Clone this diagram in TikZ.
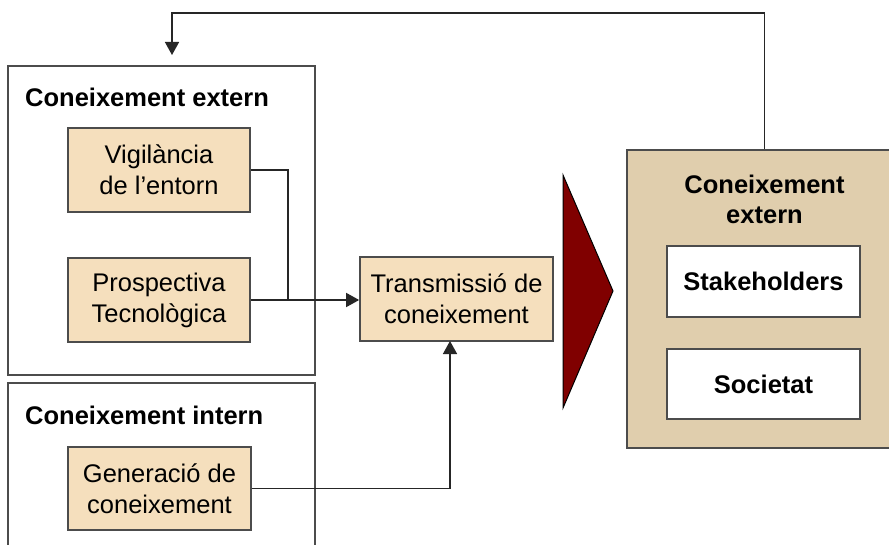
\documentclass[tikz,border=0pt]{standalone}
\usepackage{fontspec}
\setmainfont{Liberation Sans}
\usetikzlibrary{arrows.meta}
\definecolor{boxtan}{HTML}{F5DFBD}
\definecolor{bigtan}{HTML}{E0CEAD}
\definecolor{darkred}{HTML}{800000}
\begin{document}
\begin{tikzpicture}[x=1pt,y=-1pt,
  frame/.style={draw=black!70, line width=1.7pt, rectangle, inner sep=0pt},
  tanbox/.style={frame, fill=boxtan, align=center, font=\fontsize{25.5}{31}\selectfont},
  whitebox/.style={frame, fill=white, align=center, font=\bfseries\fontsize{25.5}{31}\selectfont},
  title/.style={inner sep=0pt, font=\bfseries\fontsize{25.5}{30}\selectfont, align=center},
  conn/.style={draw=black!85, line width=1.5pt},
  arr/.style={conn, -{Triangle[length=13pt,width=14pt]}}]
\useasboundingbox (0,0) rectangle (889,545);
\fill[white] (0,0) rectangle (889,545);

% left frames
\node[frame, minimum width=307pt, minimum height=309pt] (ext) at (161.5,220.5) {};
\node[title, anchor=west] (extt) at (25,97) {Coneixement extern};
\node[frame, minimum width=307pt, minimum height=190pt] (int) at (161.5,478) {};
\node[title, anchor=west] (intt) at (25,415) {Coneixement intern};

% tan boxes
\node[tanbox, minimum width=182pt, minimum height=84pt] (vig) at (159,170) {Vigilància\\de l’entorn};
\node[tanbox, minimum width=182pt, minimum height=84pt] (pros) at (159,300) {Prospectiva\\Tecnològica};
\node[tanbox, minimum width=183pt, minimum height=83pt] (gen) at (159.5,488.5) {Generació de\\coneixement};
\node[tanbox, minimum width=193pt, minimum height=84pt] (trans) at (456.5,299) {Transmissió de\\coneixement};

% triangle
\coordinate (t1) at (563,175);
\coordinate (t2) at (613,291);
\coordinate (t3) at (563,408);
\draw[fill=darkred, draw=black, line width=1pt] (t1) -- (t2) -- (t3) -- cycle;

% right box
\node[frame, fill=bigtan, minimum width=275pt, minimum height=298pt] (soc) at (764.5,299) {};
\node[title] (soct) at (764.5,199) {Coneixement\\extern};
\node[whitebox, minimum width=193pt, minimum height=71pt] (stake) at (763.5,281.5) {Stakeholders};
\node[whitebox, minimum width=193pt, minimum height=70pt] (socie) at (763.5,384) {Societat};

% connectors
\coordinate (jn) at (288,300);
\draw[conn] (vig.east) -| (jn);
\draw[arr] (pros.east) -- (trans.west |- pros.east);
\coordinate (tb) at (450,341);
\draw[arr] (gen.east) -| (tb);
\coordinate (fb) at (172,55);
\draw[arr] (soc.north) -- (764.5,13) -| (fb);
\end{tikzpicture}
\end{document}
